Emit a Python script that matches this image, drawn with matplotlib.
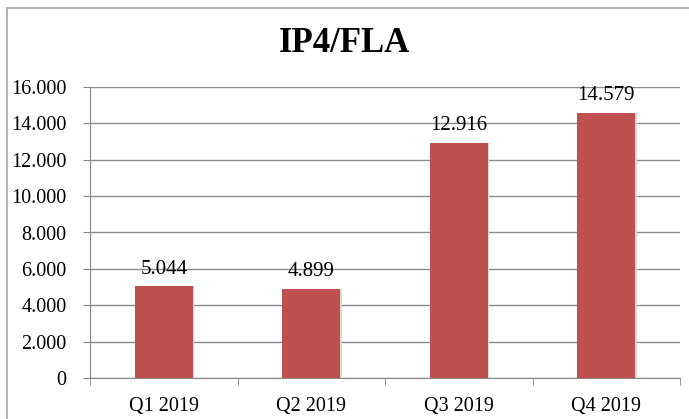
import matplotlib.pyplot as plt
from matplotlib.patches import Rectangle
from matplotlib.ticker import FuncFormatter

categorias = ['Q1 2019', 'Q2 2019', 'Q3 2019', 'Q4 2019']
valores = [5044, 4899, 12916, 14579]
titulo = 'IP4/FLA'

plt.rcParams['font.family'] = ['Liberation Serif', 'DejaVu Serif']

fig = plt.figure(figsize=(6.89, 4.19), dpi=100)
# moldura do grafico
fig.patches.append(Rectangle((7 / 689, -0.01), 1.0, 1 - 8 / 419 + 0.01,
                             transform=fig.transFigure, fill=False,
                             edgecolor='#a6a6a6', linewidth=1.2))

ax = fig.add_axes([90 / 689, 1 - 378 / 419, 590 / 689, 291 / 419])
x = range(len(categorias))

# sombra leve a direita das barras
ax.bar([i + 0.012 for i in x], valores, width=0.39, color='#d9d9d9', zorder=2)
barras = ax.bar(x, valores, width=0.39, color='#c0504d', zorder=3)

for b, v in zip(barras, valores):
    txt = f'{v:,}'.replace(',', '.')
    ax.text(b.get_x() + b.get_width() / 2, v + 420, txt, ha='center', va='bottom',
            fontsize=15, zorder=4)

ax.set_xlim(-0.5, len(categorias) - 0.5)
ax.set_ylim(0, 16000)
ax.set_yticks(range(0, 16001, 2000))
ax.yaxis.set_major_formatter(FuncFormatter(lambda v, p: f'{int(v):,}'.replace(',', '.')))
ax.set_xticks(list(x))
ax.set_xticklabels(categorias)
ax.set_xticks([i - 0.5 for i in range(len(categorias) + 1)], minor=True)
ax.tick_params(axis='x', which='major', length=0, pad=14, labelsize=14.5)
ax.tick_params(axis='x', which='minor', length=5, color='#868686')
ax.tick_params(axis='y', length=5, color='#868686', labelsize=14.5, pad=12)

ax.grid(axis='y', color='#8c8c8c', linewidth=1.0, zorder=0)
for lado in ['top', 'right']:
    ax.spines[lado].set_visible(False)
ax.spines['left'].set_color('#868686')
ax.spines['bottom'].set_color('#868686')

fig.text(0.5, 1 - 44 / 419, titulo, ha='center', va='center', fontsize=25,
         fontweight='bold')

fig.savefig('out.png', dpi=100)
